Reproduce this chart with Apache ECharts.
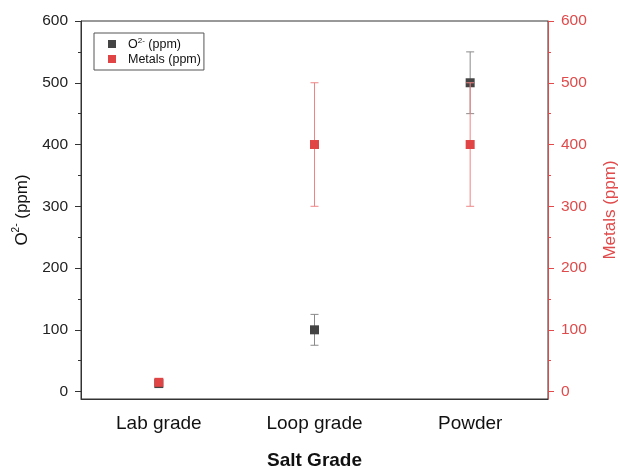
<!DOCTYPE html>
<html>
<head>
<meta charset="utf-8">
<script src="https://cdn.jsdelivr.net/npm/echarts@6/dist/echarts.min.js"></script>
<style>html,body{margin:0;padding:0;background:#fff;}#c{width:618px;height:468px;}</style>
</head>
<body>
<div id="c"></div>
<script>
const categories = ['Lab grade', 'Loop grade', 'Powder'];
const oxideValues = [13, 100, 500];
const oxideErrors = [0, 25, 50];
const metalValues = [15, 400, 400];
const metalErrors = [0, 100, 100];
const majorTicks = [0, 100, 200, 300, 400, 500, 600];
const minorTicks = [50, 150, 250, 350, 450, 550];

const FONT = '"Liberation Sans", Arial, sans-serif';
const BLACK = '#444444';
const RED = '#e04444';
const RED_AXIS = '#e04a4a';
const AXIS_BLACK = '#333333';

function errData(vals, errs) {
  return vals.map((v, i) => [i, v - errs[i], v + errs[i]]);
}
function errRender(color) {
  return function (params, api) {
    const x = api.value(0), lo = api.value(1), hi = api.value(2);
    if (hi === lo) return null;
    const a = api.coord([x, hi]);
    const b = api.coord([x, lo]);
    const hw = 4;
    const st = { stroke: color, lineWidth: 1 };
    return {
      type: 'group',
      children: [
        { type: 'line', shape: { x1: a[0], y1: a[1], x2: b[0], y2: b[1] }, style: st },
        { type: 'line', shape: { x1: a[0] - hw, y1: a[1], x2: a[0] + hw, y2: a[1] }, style: st },
        { type: 'line', shape: { x1: b[0] - hw, y1: b[1], x2: b[0] + hw, y2: b[1] }, style: st }
      ]
    };
  };
}

function yAxisBase(pos, color, isMinor) {
  return {
    type: 'value',
    position: pos,
    min: -12,
    max: 600,
    splitLine: { show: false },
    axisLine: { show: !isMinor, onZero: false, lineStyle: { color: color, width: 1 } },
    axisTick: {
      show: true, inside: false, length: isMinor ? 3 : 6,
      customValues: isMinor ? minorTicks : majorTicks,
      lineStyle: { color: color }
    },
    axisLabel: {
      show: !isMinor,
      customValues: majorTicks,
      margin: 13,
      fontSize: 15.5,
      fontFamily: FONT,
      color: pos === 'left' ? '#222' : RED_AXIS
    }
  };
}

const yLeft = Object.assign(yAxisBase('left', AXIS_BLACK, false), {
  name: '{b|O}{s|2-}{b| (ppm)}',
  nameLocation: 'middle',
  nameGap: 50,
  nameTextStyle: {
    fontFamily: FONT,
    color: '#111',
    rich: {
      b: { fontSize: 17, fontFamily: FONT, color: '#111', lineHeight: 20, verticalAlign: 'bottom' },
      s: { fontSize: 10, fontFamily: FONT, color: '#111', lineHeight: 20, verticalAlign: 'top' }
    }
  }
});
const yRight = Object.assign(yAxisBase('right', RED_AXIS, false), {
  name: 'Metals (ppm)',
  nameLocation: 'middle',
  nameGap: 54,
  nameTextStyle: { fontSize: 17, fontFamily: FONT, color: RED_AXIS }
});
const yLeftMinor = yAxisBase('left', AXIS_BLACK, true);
const yRightMinor = yAxisBase('right', RED_AXIS, true);

const chart = echarts.init(document.getElementById('c'));
chart.setOption({
  animation: false,
  backgroundColor: '#fff',
  grid: {
    left: 81, right: 70, top: 21, bottom: 69,
    show: true, borderColor: AXIS_BLACK, borderWidth: 1, backgroundColor: 'transparent',
    containLabel: false,
    outerBoundsMode: 'none'
  },
  legend: {
    orient: 'vertical',
    left: 94,
    top: 33,
    padding: [4, 3, 4, 14],
    itemGap: 2,
    itemWidth: 8,
    itemHeight: 8,
    borderColor: '#555',
    borderWidth: 1,
    borderRadius: 0,
    data: [
      { name: 'O2- (ppm)', icon: 'rect' },
      { name: 'Metals (ppm)', icon: 'rect' }
    ],
    formatter: function (name) {
      return name.indexOf('O2') === 0 ? '{b|O}{s|2-}{b| (ppm)}' : '{b|Metals (ppm)}';
    },
    textStyle: {
      fontFamily: FONT,
      padding: [0, 0, 0, 7],
      rich: {
        b: { fontSize: 12.5, fontFamily: FONT, color: '#111', lineHeight: 14, verticalAlign: 'bottom' },
        s: { fontSize: 8, fontFamily: FONT, color: '#111', lineHeight: 14, verticalAlign: 'top' }
      }
    }
  },
  xAxis: {
    type: 'category',
    data: categories,
    boundaryGap: true,
    name: 'Salt Grade',
    nameLocation: 'middle',
    nameGap: 52,
    nameTextStyle: { fontSize: 19, fontWeight: 'bold', fontFamily: FONT, color: '#111' },
    axisLine: { onZero: false, lineStyle: { color: AXIS_BLACK } },
    axisTick: { alignWithLabel: true, inside: false, length: 6, lineStyle: { color: AXIS_BLACK } },
    axisLabel: { margin: 15, fontSize: 19, fontFamily: FONT, color: '#111' },
    splitLine: { show: false }
  },
  yAxis: [yLeft, yRight, yLeftMinor, yRightMinor],
  series: [
    {
      type: 'custom',
      name: 'oxErr',
      yAxisIndex: 0,
      renderItem: errRender('#8a8a8a'),
      data: errData(oxideValues, oxideErrors),
      encode: { x: 0, y: [1, 2] },
      silent: true,
      z: 2
    },
    {
      type: 'scatter',
      name: 'O2- (ppm)',
      yAxisIndex: 0,
      symbol: 'rect',
      symbolSize: 9,
      itemStyle: { color: BLACK, opacity: 1 },
      data: oxideValues.map((v, i) => [i, v]),
      z: 3
    },
    {
      type: 'custom',
      name: 'mtErr',
      yAxisIndex: 1,
      renderItem: errRender('#ee8585'),
      data: errData(metalValues, metalErrors),
      encode: { x: 0, y: [1, 2] },
      silent: true,
      z: 4
    },
    {
      type: 'scatter',
      name: 'Metals (ppm)',
      yAxisIndex: 1,
      symbol: 'rect',
      symbolSize: 9,
      itemStyle: { color: RED, opacity: 1 },
      data: metalValues.map((v, i) => [i, v]),
      z: 5
    }
  ]
});
</script>
</body>
</html>
